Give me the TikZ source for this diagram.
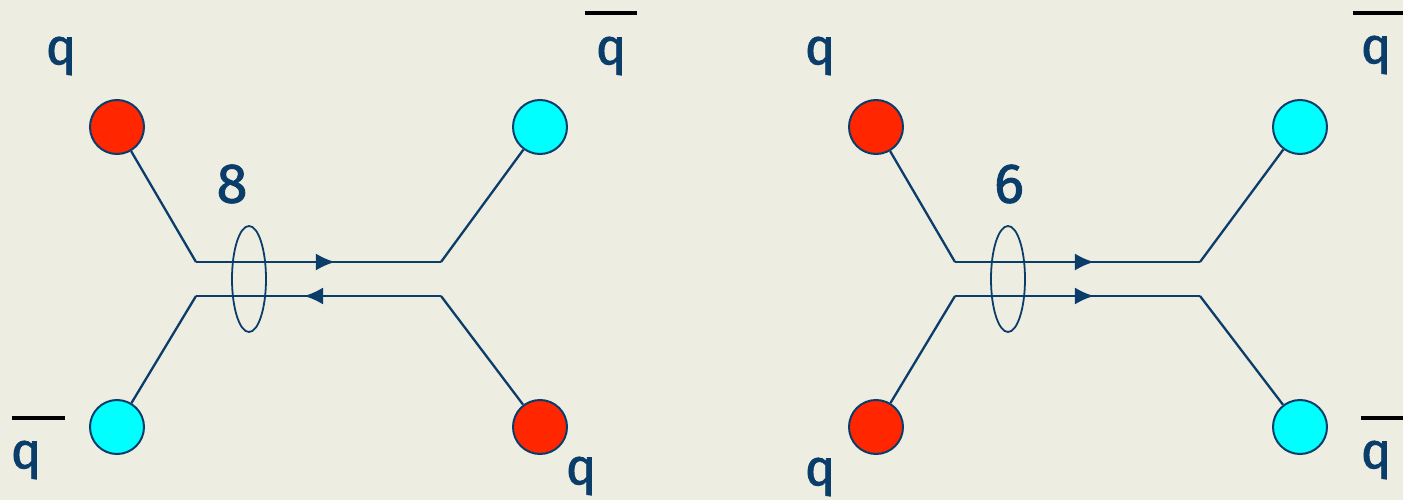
\documentclass[tikz,border=0pt]{standalone}
\usepackage{fontspec}
\setmainfont{Fira Sans}
\newfontfamily\labelfont[FakeBold=1.6]{Fira Sans}
\usetikzlibrary{arrows.meta,decorations.markings,shapes.geometric}
\definecolor{navy}{HTML}{0B3D6B}
\definecolor{qred}{HTML}{FF2600}
\definecolor{qcyan}{HTML}{00FFFF}
\definecolor{paper}{HTML}{EDEDE1}
\begin{document}
\begin{tikzpicture}[
    x=1pt, y=-1pt,
    >=Latex,
    every node/.style={text=navy},
    quark/.style={circle, draw=navy, line width=2pt, fill=qred, minimum size=54pt, inner sep=0pt},
    antiq/.style={quark, fill=qcyan},
    lbl/.style={font=\labelfont\fontsize{51}{54}\selectfont, inner sep=0pt},
    num/.style={font=\labelfont\fontsize{56}{60}\selectfont, inner sep=0pt},
    leg/.style={draw=navy, line width=2.3pt},
    flow/.style={leg, decoration={markings, mark=at position #1 with {\arrow{Latex[length=19pt,width=17pt]}}}, postaction={decorate}},
    bar/.style={draw=black, line width=3.2pt},
    ring/.style={ellipse, draw=navy, line width=1.8pt, minimum width=34pt, minimum height=106pt, inner sep=0pt},
  ]
    \useasboundingbox (0,0) rectangle (1403,500);
    \fill[paper] (0,0) rectangle (1403,500);

    % octet: q qbar -> q qbar
    \node[quark] (la) at (117,127) {};
    \node[antiq] (lb) at (540,127) {};
    \node[antiq] (lc) at (117,427) {};
    \node[quark] (ld) at (540,427) {};
    \coordinate (lj1) at (196,262);
    \coordinate (lj2) at (441,262);
    \coordinate (lj3) at (196,296);
    \coordinate (lj4) at (441,296);
    \draw[leg] (la) -- (lj1);
    \draw[leg] (lb) -- (lj2);
    \draw[leg] (lc) -- (lj3);
    \draw[leg] (ld) -- (lj4);
    \draw[flow=0.567] (lj1) -- (lj2);
    \draw[flow=0.559] (lj4) -- (lj3);
    \node[ring] (lring) at (249,279) {};
    \node[num] (lrep) at (232,184) {8};
    \node[lbl] (lqa) at (61,56) {q};
    \node[lbl] (lqb) at (611,56) {q};
    \node[lbl] (lqc) at (26,460) {q};
    \node[lbl] (lqd) at (581,476) {q};
    \draw[bar] ([shift={(-26,-43)}]lqb.center) -- ++(52,0);
    \draw[bar] ([shift={(-14,-42)}]lqc.center) -- ++(53,0);

    % sextet: q q -> qbar qbar
    \node[quark] (ra) at (876,127) {};
    \node[antiq] (rb) at (1300,127) {};
    \node[quark] (rc) at (876,427) {};
    \node[antiq] (rd) at (1300,427) {};
    \coordinate (rj1) at (955,262);
    \coordinate (rj2) at (1200,262);
    \coordinate (rj3) at (955,296);
    \coordinate (rj4) at (1200,296);
    \draw[leg] (ra) -- (rj1);
    \draw[leg] (rb) -- (rj2);
    \draw[leg] (rc) -- (rj3);
    \draw[leg] (rd) -- (rj4);
    \draw[flow=0.567] (rj1) -- (rj2);
    \draw[flow=0.567] (rj3) -- (rj4);
    \node[ring] (rring) at (1008,279) {};
    \node[num] (rrep) at (1009,184) {6};
    \node[lbl] (rqa) at (820,56) {q};
    \node[lbl] (rqb) at (1376,55) {q};
    \node[lbl] (rqc) at (820,477) {q};
    \node[lbl] (rqd) at (1376,460) {q};
    \draw[bar] ([shift={(-23,-42)}]rqb.center) -- ++(50,0);
    \draw[bar] ([shift={(-15,-42)}]rqd.center) -- ++(42,0);
  \end{tikzpicture}
\end{document}
